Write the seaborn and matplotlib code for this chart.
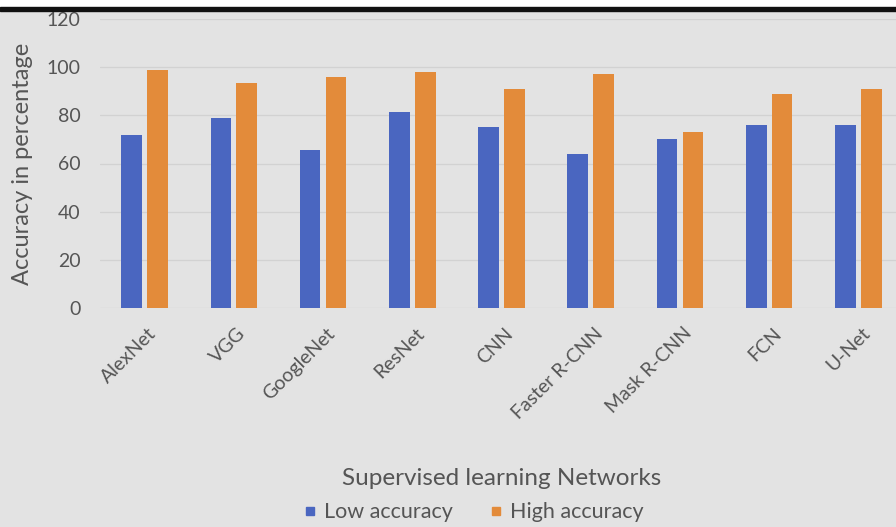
import numpy as np
import pandas as pd
import seaborn as sns
import matplotlib.pyplot as plt
import matplotlib.transforms as mtransforms
from matplotlib.lines import Line2D
from matplotlib.patches import Rectangle

# 网络名称与准确率
networks = ['AlexNet', 'VGG', 'GoogleNet', 'ResNet', 'CNN',
            'Faster R-CNN', 'Mask R-CNN', 'FCN', 'U-Net']
low_acc = [72, 79, 65.5, 81.5, 75, 64, 70, 76, 76]
high_acc = [99, 93.5, 96, 98, 91, 97, 73, 89, 91]
series = ['Low accuracy', 'High accuracy']
y_ticks = [0, 20, 40, 60, 80, 100, 120]

data = pd.DataFrame({
    'network': networks * 2,
    'accuracy': low_acc + high_acc,
    'series': [series[0]] * len(networks) + [series[1]] * len(networks),
})

colors = {'Low accuracy': '#4A66C0', 'High accuracy': '#E38B3A'}
bg = '#E3E3E3'
txt = '#555555'

sns.set_style('white')
plt.rcParams['font.family'] = ['Lato', 'DejaVu Sans']

fig = plt.figure(figsize=(8.96, 5.27), dpi=100, facecolor=bg)
ax = fig.add_axes([100 / 896, 219 / 527, 803 / 896, 289 / 527])
ax.set_facecolor(bg)

sns.barplot(data=data, x='network', y='accuracy', hue='series',
            palette=colors, width=0.58, gap=0.2, ax=ax, legend=False,
            saturation=1, linewidth=0)

ax.set_ylim(0, 120)
ax.set_yticks(y_ticks)
ax.set_xlim(-0.5, 8.5)
ax.yaxis.grid(True, color='#D2D2D2', linewidth=0.9)
ax.set_axisbelow(True)
for s in ax.spines.values():
    s.set_visible(False)
ax.tick_params(length=0, colors=txt)
ax.tick_params(axis='y', pad=14, labelsize=14)
ax.tick_params(axis='x', pad=12, labelsize=14)
offset = mtransforms.ScaledTranslation(0.03, 0, fig.dpi_scale_trans)
for lab in ax.get_xticklabels():
    lab.set_rotation(45)
    lab.set_ha('right')
    lab.set_rotation_mode('anchor')
    lab.set_transform(lab.get_transform() + offset)
ax.set_xlabel('Supervised learning Networks', fontsize=17.5,
              color=txt)
ax.xaxis.set_label_coords(0.5, -0.555)
ax.set_ylabel('Accuracy in percentage', fontsize=17, color=txt)
ax.yaxis.set_label_coords(-0.084, 0.5)

handles = [Line2D([], [], marker='s', linestyle='', markersize=6,
                  color=colors[s]) for s in series]
fig.legend(handles, series, loc='center', bbox_to_anchor=(0.52, 0.028),
           ncol=2, frameon=False, fontsize=15.5, handletextpad=-0.35,
           columnspacing=1.0, labelcolor=txt)

# 顶部白边与黑线
fig.add_artist(Rectangle((0, 1 - 7 / 527), 1, 7 / 527,
                         transform=fig.transFigure, color='white'))
fig.add_artist(Rectangle((0, 1 - 11 / 527), 1, 4 / 527,
                         transform=fig.transFigure, color='#111111'))

fig.savefig('out.png', dpi=100, facecolor=bg)
